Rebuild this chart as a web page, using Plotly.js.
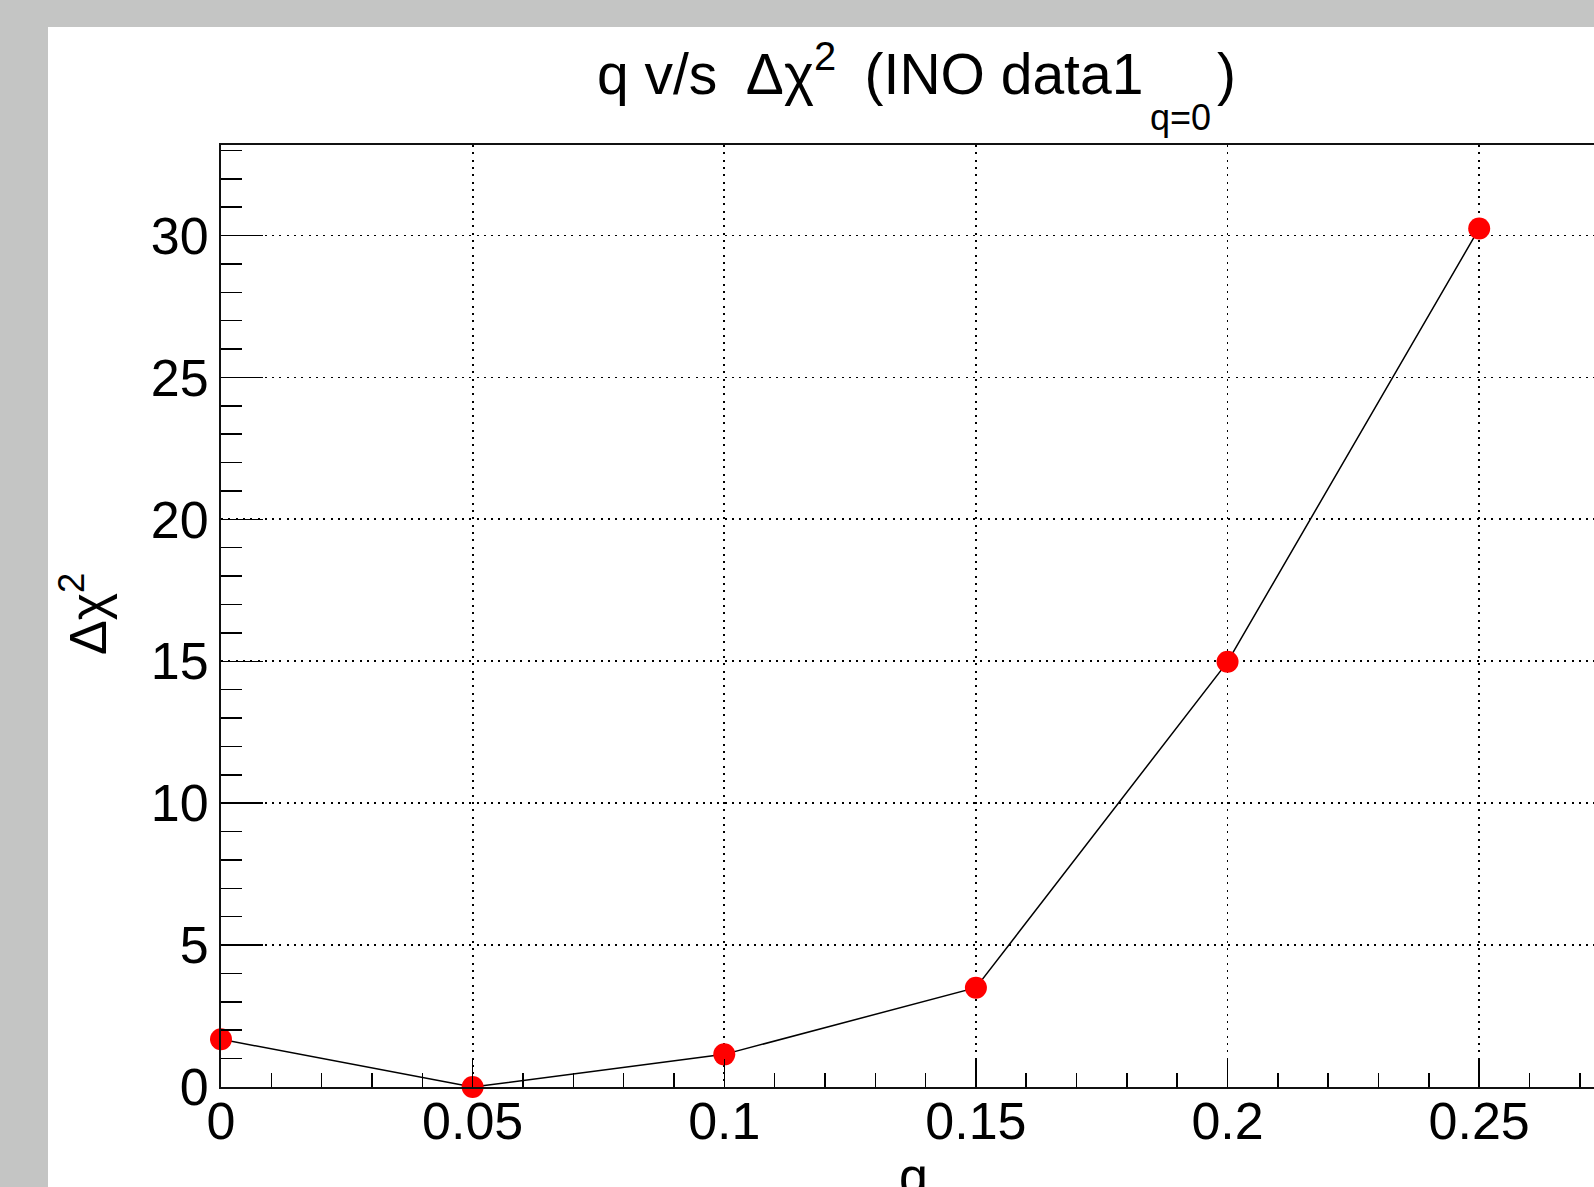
<!DOCTYPE html>
<html>
<head>
<meta charset="utf-8">
<script src="https://cdn.plot.ly/plotly-3.0.1.min.js"></script>
<style>
  html, body { margin: 0; padding: 0; background: #c4c5c4; overflow: hidden; width: 1594px; height: 1187px; }
  #chart { position: absolute; left: 48px; top: 27px; }
</style>
</head>
<body>
<div id="chart"></div>
<script>
// ---- data ----
const q = [0, 0.05, 0.1, 0.15, 0.2, 0.25];
const dchi2 = [1.68, 0.0, 1.15, 3.5, 14.98, 30.25];
const xTickVals = [0, 0.05, 0.1, 0.15, 0.2, 0.25];
const xTickText = ["0", "0.05", "0.1", "0.15", "0.2", "0.25"];
const yTickVals = [0, 5, 10, 15, 20, 25, 30];
const yTickText = ["0", "5", "10", "15", "20", "25", "30"];
const titleMain = "q v/s\u2002\u0394\u03c7<sup>2</sup>\u2002(INO data1";
const titleSub = "q=0";
const titleClose = ")";
const xTitle = "q";
const yTitle = "\u0394\u03c7<sup>2</sup>";

// ---- geometry (page pixels) ----
const divLeft = 48, divTop = 27;
const M = {l: 173, t: 118, r: 60, b: 118};
const PW = 1384, PH = 942;
const plotLeft = divLeft + M.l, plotTop = divTop + M.t, plotBottom = plotTop + PH;
const px = x => (x - plotLeft) / PW;
const py = y => (plotBottom - y) / PH;

const FONT = 'Liberation Sans, Arial, Helvetica, sans-serif';

const trace = {
  x: q, y: dchi2, type: 'scatter', mode: 'lines+markers',
  line: {color: '#000', width: 1.5},
  marker: {color: '#ff0000', size: 22, line: {width: 0}},
  cliponaxis: false, hoverinfo: 'skip'
};

const axisCommon = {
  showline: true, linecolor: '#111', linewidth: 2, mirror: true,
  ticks: 'inside', tickcolor: '#000', tickwidth: 1.5,
  showgrid: true, gridcolor: '#000', gridwidth: 1.8, griddash: '2px,5.3px',
  zeroline: false,
  tickfont: {family: FONT, size: 52, color: '#000'},
  tickmode: 'array', fixedrange: true
};

const layout = {
  width: M.l + PW + M.r, height: M.t + PH + M.b, autosize: false,
  margin: M,
  paper_bgcolor: '#ffffff', plot_bgcolor: '#ffffff',
  showlegend: false,
  xaxis: Object.assign({}, axisCommon, {
    range: [0, 0.275], tickvals: xTickVals, ticktext: xTickText, ticklen: 28,
    ticklabelstandoff: -12,
    minor: {ticks: 'inside', ticklen: 14, tickwidth: 1.5, tickcolor: '#000', dtick: 0.01, tick0: 0, showgrid: false}
  }),
  yaxis: Object.assign({}, axisCommon, {
    range: [0, 33.19], tickvals: yTickVals, ticktext: yTickText, ticklen: 42,
    minor: {ticks: 'inside', ticklen: 21, tickwidth: 1.5, tickcolor: '#000', dtick: 1, tick0: 0, showgrid: false}
  }),
  annotations: [
    {text: titleMain, xref: 'paper', yref: 'paper', x: px(1145), y: py(108), xanchor: 'right', yanchor: 'bottom',
     showarrow: false, font: {family: FONT, size: 57, color: '#000'}},
    {text: titleSub, xref: 'paper', yref: 'paper', x: px(1148), y: py(140), xanchor: 'left', yanchor: 'bottom',
     showarrow: false, font: {family: FONT, size: 36, color: '#000'}},
    {text: titleClose, xref: 'paper', yref: 'paper', x: px(1215), y: py(108), xanchor: 'left', yanchor: 'bottom',
     showarrow: false, font: {family: FONT, size: 57, color: '#000'}},
    {text: yTitle, xref: 'paper', yref: 'paper', x: px(84), y: py(614), xanchor: 'center', yanchor: 'middle',
     textangle: -90, showarrow: false, font: {family: FONT, size: 52, color: '#000'}},
    {text: xTitle, xref: 'paper', yref: 'paper', x: px(913), y: py(1145), xanchor: 'center', yanchor: 'top',
     showarrow: false, font: {family: FONT, size: 52, color: '#000'}}
  ]
};

Plotly.newPlot('chart', [trace], layout, {displayModeBar: false, staticPlot: true});
</script>
</body>
</html>
